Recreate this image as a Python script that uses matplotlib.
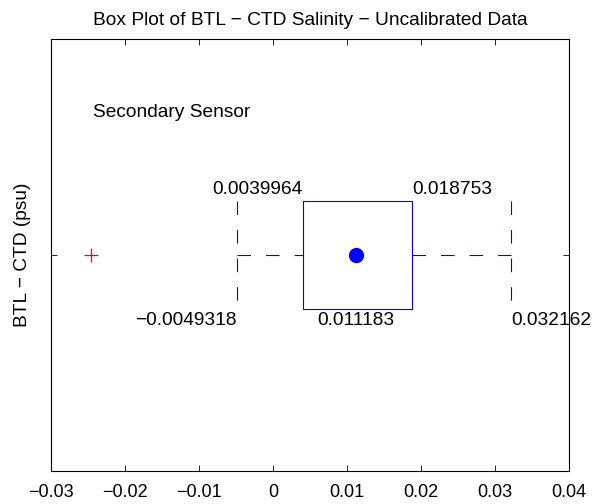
import numpy as np
import matplotlib.pyplot as plt

plt.rcParams['font.family'] = ['Liberation Sans', 'DejaVu Sans']

# box plot statistics (psu)
whisker_lo = -0.0049318
q1 = 0.0039964
median = 0.011183
q3 = 0.018753
whisker_hi = 0.032162
outliers = [-0.0246]
xticks = [-0.03, -0.02, -0.01, 0, 0.01, 0.02, 0.03, 0.04]
xticklabels = ['\u22120.03', '\u22120.02', '\u22120.01', '0', '0.01', '0.02', '0.03', '0.04']

pos = 1
hw = 0.25  # half box height

fig = plt.figure(figsize=(6.03, 5.04), dpi=100)
ax = fig.add_axes([51/603, 33/504, 518/603, 432/504])

blue = (0, 0, 1)
lw = 0.8
dash = (0, (12.2, 13.5))
# box
ax.plot([q1, q3, q3, q1, q1], [pos-hw, pos-hw, pos+hw, pos+hw, pos-hw], c=blue, lw=lw)
# whiskers
ax.plot([whisker_lo, q1], [pos, pos], c=blue, lw=lw, ls=dash)
ax.plot([q3, whisker_hi], [pos, pos], c=blue, lw=lw, ls=dash)
ax.plot([whisker_lo, whisker_lo], [pos+hw, pos-hw], c=blue, lw=lw, ls=dash)
ax.plot([whisker_hi, whisker_hi], [pos+hw, pos-hw], c=blue, lw=lw, ls=dash)
# median dot
ax.plot([median], [pos], 'o', c=blue, ms=10)
# outliers
ax.plot(outliers, [pos]*len(outliers), '+', c='red', ms=10, mew=0.9)

fs = 13.8
ax.text(q1, pos+hw+0.012, '%g' % q1, ha='right', va='bottom', fontsize=fs)
ax.text(q3, pos+hw+0.012, '%g' % q3, ha='left', va='bottom', fontsize=fs)
ax.text(whisker_lo, pos-hw-0.015, '\u2212%g' % abs(whisker_lo), ha='right', va='top', fontsize=fs)
ax.text(median, pos-hw-0.015, '%g' % median, ha='center', va='top', fontsize=fs)
ax.text(whisker_hi, pos-hw-0.015, '%g' % whisker_hi, ha='left', va='top', fontsize=fs)
ax.text(-0.0243, 1.662, 'Secondary Sensor', ha='left', va='center', fontsize=fs)

ax.set_xlim(-0.03, 0.04)
ax.set_ylim(0, 2)
ax.set_xticks(xticks)
ax.set_xticklabels(xticklabels, fontsize=13)
ax.set_yticks([pos])
ax.set_yticklabels([''])
ax.tick_params(direction='in', top=True, right=True, length=4, width=0.6, pad=9.5)
for s in ax.spines.values():
    s.set_linewidth(0.8)
ax.set_ylabel('BTL \u2212 CTD (psu)', fontsize=fs)
ax.yaxis.set_label_coords(-0.039, 0.5)
ax.set_title('Box Plot of BTL \u2212 CTD Salinity \u2212 Uncalibrated Data', fontsize=13.8, pad=10)

fig.savefig('out.png', dpi=100)
